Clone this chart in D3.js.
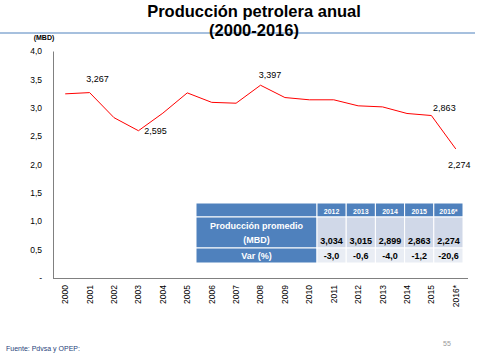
<!DOCTYPE html>
<html><head><meta charset="utf-8">
<script src="https://cdn.jsdelivr.net/npm/d3@7"></script>
<style>body{margin:0;background:#fff}svg{display:block;font-family:Arial,"Liberation Sans",sans-serif}</style>
</head><body>
<script>
const years = ["2000","2001","2002","2003","2004","2005","2006","2007","2008","2009","2010","2011","2012","2013","2014","2015","2016*"];
const production = [3.245,3.267,2.825,2.595,2.905,3.262,3.095,3.080,3.397,3.180,3.140,3.140,3.034,3.015,2.899,2.863,2.274];
const labelledYears = ["2001","2003","2008","2015","2016*"];
const yTicks = [0,0.5,1,1.5,2,2.5,3,3.5,4];
const tableYears = ["2012","2013","2014","2015","2016*"];
const tableProd = ["3,034","3,015","2,899","2,863","2,274"];
const tableVar = ["-3,0","-0,6","-4,0","-1,2","-20,6"];

const W=480,H=360;
const svg=d3.select("body").append("svg").attr("width",W).attr("height",H);
const fmt = v => v.toFixed(3).replace(".",",");

// title
svg.append("line").attr("x1",0).attr("x2",475).attr("y1",33).attr("y2",33).attr("stroke","#4F81BD").attr("stroke-width",1);
svg.append("text").attr("x",254).attr("y",17).attr("text-anchor","middle").attr("font-size",16.5).attr("font-weight","bold").text("Producción  petrolera anual");
svg.append("text").attr("x",254).attr("y",36).attr("text-anchor","middle").attr("font-size",16.5).attr("font-weight","bold").text("(2000-2016)");

const x=d3.scaleBand().domain(years).range([53,468]);
const y=d3.scaleLinear().domain([0,4]).range([278,51]);

// axes
const yAxis=d3.axisLeft(y).tickValues(yTicks).tickSize(0).tickPadding(11)
  .tickFormat(d=>d===0?"-":d.toFixed(1).replace(".",","));
const gy=svg.append("g").attr("transform","translate(53,0)").call(yAxis);
gy.select(".domain").attr("stroke","#808080");
gy.selectAll("text").attr("font-size",8.5).attr("fill","#000").attr("font-family","Arial,'Liberation Sans',sans-serif");

const xAxis=d3.axisBottom(x).tickSize(0).tickPadding(0);
const gx=svg.append("g").attr("transform","translate(0,278)").call(xAxis);
gx.select(".domain").attr("stroke","#808080").attr("d","M53,0.5H468");
gx.selectAll("text").attr("font-size",8.5).attr("fill","#000").attr("font-family","Arial,'Liberation Sans',sans-serif")
  .attr("text-anchor","end").attr("dy","0.35em")
  .attr("transform","translate(0,7) rotate(-90)").attr("x",0).attr("y",0);

svg.append("text").attr("x",44).attr("y",40).attr("text-anchor","middle").attr("font-size",7).attr("font-weight","bold").text("(MBD)");

// line
const line=d3.line().x((d,i)=>x(years[i])+x.bandwidth()/2).y(d=>y(d));
svg.append("path").datum(production).attr("d",line).attr("fill","none").attr("stroke","#FF0000").attr("stroke-width",1);

// labels
const offs={"2001":[8,-13.5],"2003":[17,0.5],"2008":[9.5,-10],"2015":[13,-7.5],"2016*":[3.5,16]};
labelledYears.forEach(yr=>{
  const i=years.indexOf(yr);
  const px=x(yr)+x.bandwidth()/2, py=y(production[i]);
  svg.append("text").attr("x",px+offs[yr][0]).attr("y",py+offs[yr][1]).attr("dy","0.35em").attr("text-anchor","middle")
    .attr("font-size",9).text(fmt(production[i]));
});

// table
const tx0=196, col1=317, rows=[203,217,248,263];
const colX=d3.scaleBand().domain(tableYears).range([col1,463]);
const g=svg.append("g");
const cell=(x0,y0,w,h,fill)=>g.append("rect").attr("x",x0).attr("y",y0).attr("width",w).attr("height",h).attr("fill",fill).attr("stroke","#fff").attr("stroke-width",1);
cell(tx0,rows[0],col1-tx0,rows[1]-rows[0],"#4F81BD");
cell(tx0,rows[1],col1-tx0,rows[2]-rows[1],"#4F81BD");
cell(tx0,rows[2],col1-tx0,rows[3]-rows[2],"#4F81BD");
tableYears.forEach((yr,i)=>{
  const cx=colX(yr), w=colX.bandwidth();
  cell(cx,rows[0],w,rows[1]-rows[0],"#4F81BD");
  cell(cx,rows[1],w,rows[2]-rows[1],"#D0D8E8");
  cell(cx,rows[2],w,rows[3]-rows[2],"#E9EDF4");
  g.append("text").attr("x",cx+w/2).attr("y",rows[0]+10.5).attr("text-anchor","middle").attr("font-size",7).attr("font-weight","bold").attr("fill","#fff").text(yr);
  g.append("text").attr("x",cx+w/2).attr("y",rows[1]+27).attr("text-anchor","middle").attr("font-size",9).attr("font-weight","bold").text(tableProd[i]);
  g.append("text").attr("x",cx+w/2).attr("y",rows[2]+11).attr("text-anchor","middle").attr("font-size",9).attr("font-weight","bold").text(tableVar[i]);
});
const cxm=(tx0+col1)/2;
g.append("text").attr("x",cxm).attr("y",rows[1]+12).attr("text-anchor","middle").attr("font-size",9).attr("font-weight","bold").attr("fill","#fff").text("Producción promedio");
g.append("text").attr("x",cxm).attr("y",rows[1]+26).attr("text-anchor","middle").attr("font-size",9).attr("font-weight","bold").attr("fill","#fff").text("(MBD)");
g.append("text").attr("x",cxm).attr("y",rows[2]+11).attr("text-anchor","middle").attr("font-size",9).attr("font-weight","bold").attr("fill","#fff").text("Var (%)");

// footer
svg.append("text").attr("x",6).attr("y",351).attr("font-size",7).attr("fill","#1F3F7A").text("Fuente: Pdvsa y OPEP:");
svg.append("text").attr("x",447).attr("y",346).attr("text-anchor","middle").attr("font-size",7).attr("fill","#999").text("55");
</script>
</body></html>
